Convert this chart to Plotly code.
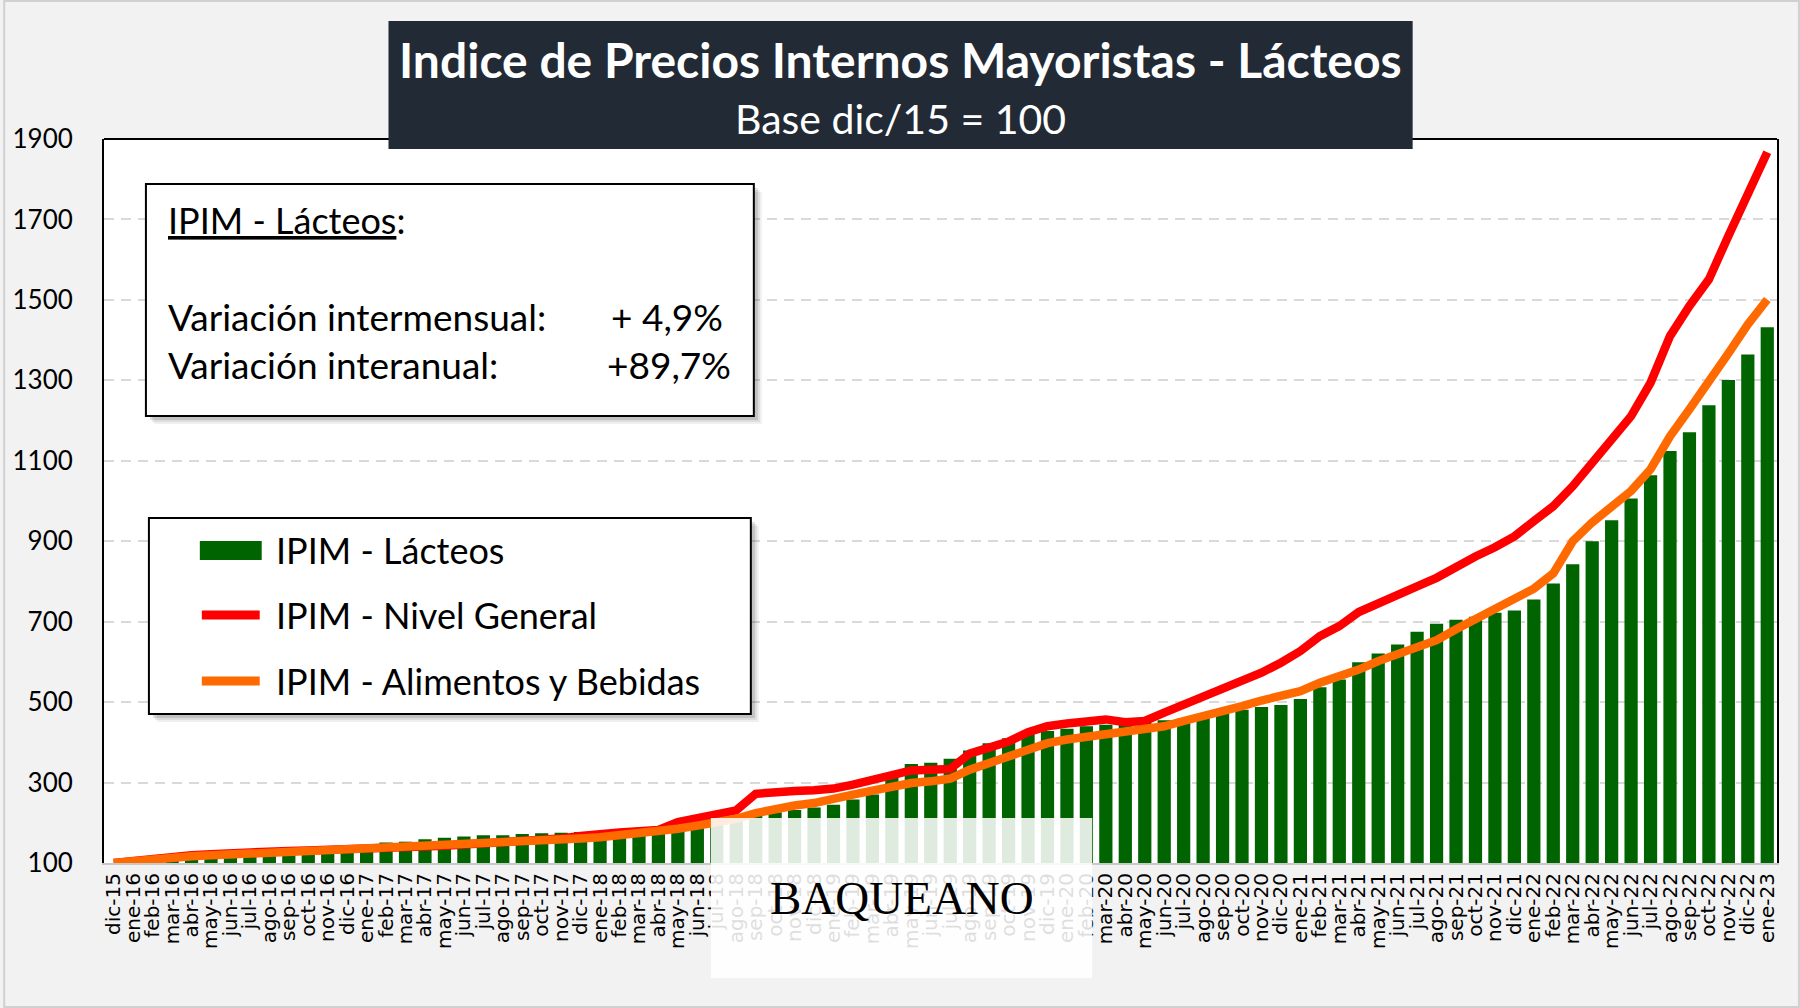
import plotly.graph_objects as go

# Indice de Precios Internos Mayoristas, base dic/15 = 100

meses = [
    "dic-15",
    "ene-16", "feb-16", "mar-16", "abr-16", "may-16", "jun-16",
    "jul-16", "ago-16", "sep-16", "oct-16", "nov-16", "dic-16",
    "ene-17", "feb-17", "mar-17", "abr-17", "may-17", "jun-17",
    "jul-17", "ago-17", "sep-17", "oct-17", "nov-17", "dic-17",
    "ene-18", "feb-18", "mar-18", "abr-18", "may-18", "jun-18",
    "jul-18", "ago-18", "sep-18", "oct-18", "nov-18", "dic-18",
    "ene-19", "feb-19", "mar-19", "abr-19", "may-19", "jun-19",
    "jul-19", "ago-19", "sep-19", "oct-19", "nov-19", "dic-19",
    "ene-20", "feb-20", "mar-20", "abr-20", "may-20", "jun-20",
    "jul-20", "ago-20", "sep-20", "oct-20", "nov-20", "dic-20",
    "ene-21", "feb-21", "mar-21", "abr-21", "may-21", "jun-21",
    "jul-21", "ago-21", "sep-21", "oct-21", "nov-21", "dic-21",
    "ene-22", "feb-22", "mar-22", "abr-22", "may-22", "jun-22",
    "jul-22", "ago-22", "sep-22", "oct-22", "nov-22", "dic-22",
    "ene-23",
]

lacteos = [
    100,
    102, 104, 106, 108, 111, 114, 117, 120, 123, 126, 129, 132,
    136, 151, 153, 159, 163, 166, 169, 169, 172, 174, 175, 177,
    176, 177, 178, 180, 185, 190, 200, 210, 218, 226, 232, 238,
    245, 258, 270, 324, 346, 349, 359, 380, 398, 410, 420, 428,
    434, 440, 444, 447, 452, 455, 459, 470, 473, 481, 488, 493,
    508, 537, 556, 599, 621, 643, 675, 695, 705, 712, 722, 728,
    755, 795, 843, 900, 952, 1006, 1064, 1124, 1171, 1238, 1301, 1364,
    1432,
]

nivel_general = [
    100,
    106, 111, 115, 119, 122, 125, 127, 129, 130, 131, 132, 133,
    134, 136, 138, 140, 143, 146, 148, 151, 154, 157, 161, 167,
    173, 176, 179, 182, 202, 212, 222, 231, 272, 278, 279, 281,
    285, 295, 305, 317, 330, 332, 334, 372, 386, 402, 425, 440,
    447, 452, 457, 450, 453, 474, 494, 511, 530, 552, 573, 598,
    627, 664, 689, 724, 747, 770, 788, 809, 838, 862, 885, 912,
    950, 987, 1037, 1095, 1153, 1211, 1294, 1410, 1485, 1551, 1659, 1758,
    1867,
]

alimentos = [
    100,
    105, 109, 113, 117, 119, 121, 123, 125, 127, 129, 130, 132,
    134, 136, 138, 140, 143, 146, 148, 150, 152, 155, 158, 161,
    164, 168, 172, 176, 185, 193, 201, 210, 224, 236, 243, 249,
    257, 270, 280, 291, 299, 303, 310, 332, 349, 365, 382, 398,
    407, 413, 419, 424, 430, 440, 453, 465, 473, 490, 504, 513,
    527, 548, 562, 581, 602, 619, 635, 654, 681, 705, 730, 755,
    782, 820, 900, 947, 986, 1025, 1079, 1161, 1228, 1294, 1367, 1439,
    1501,
]

y_ticks = [100, 300, 500, 700, 900, 1100, 1300, 1500, 1700, 1900]

FONT = "Lato"
W, H = 1800, 1008
L, R, T, B = 101, 1777, 139, 863


def px(x):
    return (x - L) / (R - L)


def py(y):
    return (B - y) / (B - T)


def box(x0, y0, x1, y1, **kw):
    return dict(type="rect", xref="paper", yref="paper",
                x0=px(x0), x1=px(x1), y0=py(y1), y1=py(y0), **kw)


def label(x, y, text, size=33, color="black", anchor="left", family=FONT):
    return dict(xref="paper", yref="paper", x=px(x), y=py(y), text=text,
                showarrow=False, xanchor=anchor, yanchor="middle",
                font=dict(family=family, size=size, color=color))


fig = go.Figure()

fig.add_trace(go.Bar(x=meses, y=lacteos, name="IPIM - Lácteos",
                     marker=dict(color="#006400", line=dict(width=0))))
fig.add_trace(go.Scatter(x=meses, y=nivel_general, name="IPIM - Nivel General",
                         mode="lines", line=dict(color="#ff0000", width=8.5)))
fig.add_trace(go.Scatter(x=meses, y=alimentos, name="IPIM - Alimentos y Bebidas",
                         mode="lines", line=dict(color="#ff6a00", width=8.5)))

shapes = []
# whole picture frame
shapes.append(box(1, 1, W - 1, H - 1, line=dict(color="#d0d0d0", width=2), layer="below"))
# plot top border
shapes.append(dict(type="line", xref="paper", yref="paper", x0=0, x1=1, y0=1, y1=1,
                   line=dict(color="black", width=2), layer="above"))

# soft shadows + boxes
for (x0, y0, x1, y1) in [(143, 184, 752, 416), (146, 518, 749, 714)]:
    for off, a in [(8, 0.06), (6, 0.08), (4, 0.12)]:
        shapes.append(box(x0 + off, y0 + off, x1 + off, y1 + off,
                          fillcolor="rgba(0,0,0,%s)" % a, line=dict(width=0), layer="above"))
    shapes.append(box(x0, y0, x1, y1, fillcolor="white",
                      line=dict(color="black", width=2), layer="above"))

# legend symbols
shapes.append(box(197, 541, 259, 560, fillcolor="#006400", line=dict(width=0), layer="above"))
shapes.append(dict(type="line", xref="paper", yref="paper", x0=px(199), x1=px(257),
                   y0=py(615), y1=py(615), line=dict(color="#ff0000", width=9), layer="above"))
shapes.append(dict(type="line", xref="paper", yref="paper", x0=px(199), x1=px(257),
                   y0=py(681), y1=py(681), line=dict(color="#ff6a00", width=9), layer="above"))

# title box
shapes.append(box(386, 21, 1412, 149, fillcolor="#222a35", line=dict(width=0), layer="above"))

# watermark
shapes.append(box(709, 818, 1091, 978, fillcolor="rgba(255,255,255,0.87)",
                  line=dict(width=0), layer="above"))

annotations = [
    label(899, 60, "<b>Indice de Precios Internos Mayoristas - Lácteos</b>", size=48,
          color="white", anchor="center"),
    label(899, 118, "Base dic/15 = 100", size=41, color="white", anchor="center"),
    label(163, 220, "<u>IPIM - Lácteos</u>:", size=36),
    label(163, 316, "Variación intermensual:", size=37),
    label(723, 316, "+ 4,9%", size=37, anchor="right"),
    label(163, 364, "Variación interanual:", size=37),
    label(731, 364, "+89,7%", size=37, anchor="right"),
    label(271, 550, "IPIM - Lácteos", size=36),
    label(271, 615, "IPIM - Nivel General", size=36),
    label(271, 681, "IPIM - Alimentos y Bebidas", size=36),
    label(900, 898, "BAQUEANO", size=47, anchor="center", family="Liberation Serif"),
]

fig.update_layout(
    width=W, height=H, autosize=False,
    margin=dict(l=L, r=W - R, t=T, b=H - B, pad=0),
    paper_bgcolor="#f2f2f2",
    plot_bgcolor="white",
    showlegend=False,
    bargap=0.32,
    shapes=shapes,
    annotations=annotations,
)

fig.update_xaxes(
    type="category", tickangle=-90, showgrid=False, zeroline=False,
    tickmode="array", tickvals=meses, ticktext=meses,
    showline=True, linecolor="#c8c8c8", linewidth=2, ticks="",
    tickfont=dict(family="DejaVu Sans", size=20, color="black"),
)

fig.update_yaxes(
    range=[100, 1900], tickvals=y_ticks, showline=True, linecolor="black",
    linewidth=2, mirror=True, ticks="", zeroline=False,
    gridcolor="#d9d9d9", gridwidth=2, griddash="10px,7px",
    ticklabelstandoff=24,
    tickfont=dict(family=FONT, size=26, color="black"),
)

fig.write_html("out.html", config={"displayModeBar": False},
               post_script="document.body.style.margin='0';")
